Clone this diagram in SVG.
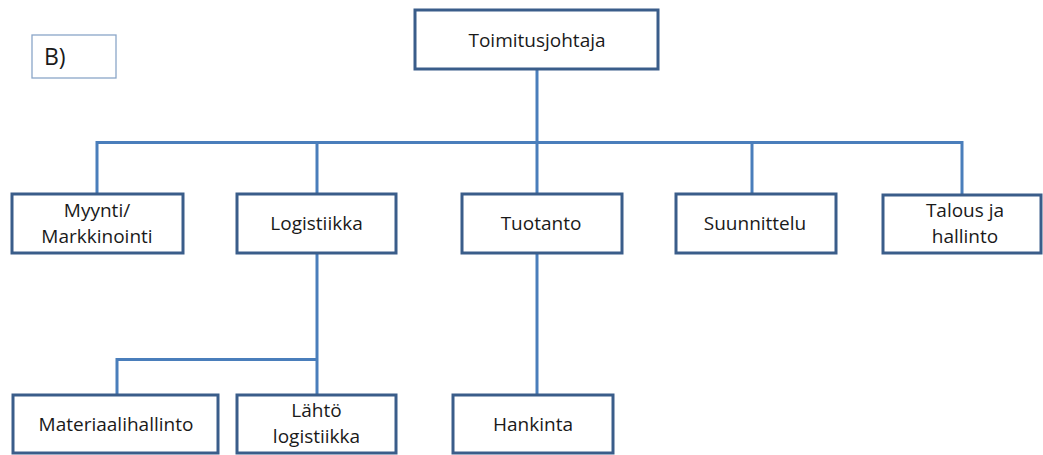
<svg xmlns="http://www.w3.org/2000/svg" width="1043" height="455" viewBox="0 0 1043 455">
  <style>
    .box { fill: #ffffff; stroke: #3a5d8a; stroke-width: 3; }
    .tag { fill: #ffffff; stroke: #8aa6c8; stroke-width: 1.3; }
    .lbl { font-family: "Open Sans", "Liberation Sans", sans-serif; font-size: 19px; fill: #1a1a1a; text-anchor: middle; }
    .tagtxt { font-family: "Open Sans", "Liberation Sans", sans-serif; font-size: 23px; fill: #1a1a1a; }
    .wire { fill: none; stroke: #4a7ebb; stroke-width: 3; }
  </style>
  <rect width="1043" height="455" fill="#ffffff"/>

  <!-- connectors -->
  <g id="connectors">
    <path class="wire" d="M537 69 V142.5"/>
    <path class="wire" d="M97 194 V142.5 H962 V194"/>
    <path class="wire" d="M317 142.5 V194"/>
    <path class="wire" d="M537 142.5 V194"/>
    <path class="wire" d="M752 142.5 V194"/>
    <path class="wire" d="M317 253 V395"/>
    <path class="wire" d="M117 395 V359.5 H317"/>
    <path class="wire" d="M537 253 V395"/>
  </g>

  <!-- caption tag -->
  <g id="tag-b">
    <rect class="tag" x="32" y="35" width="84" height="43"/>
    <text class="tagtxt" x="44" y="65">B)</text>
  </g>

  <g id="toimitusjohtaja">
    <rect class="box" x="415" y="10" width="243" height="59"/>
    <text class="lbl" x="537" y="47">Toimitusjohtaja</text>
  </g>

  <g id="myynti">
    <rect class="box" x="12" y="194" width="171" height="59"/>
    <text class="lbl" x="97" y="217">Myynti/</text>
    <text class="lbl" x="97" y="243">Markkinointi</text>
  </g>

  <g id="logistiikka">
    <rect class="box" x="237" y="194" width="159" height="59"/>
    <text class="lbl" x="316.5" y="230">Logistiikka</text>
  </g>

  <g id="tuotanto">
    <rect class="box" x="462" y="194" width="160" height="59"/>
    <text class="lbl" x="541" y="230">Tuotanto</text>
  </g>

  <g id="suunnittelu">
    <rect class="box" x="676" y="194" width="160" height="59"/>
    <text class="lbl" x="755" y="230">Suunnittelu</text>
  </g>

  <g id="talous">
    <rect class="box" x="883" y="195" width="158" height="58"/>
    <text class="lbl" x="965" y="217">Talous ja</text>
    <text class="lbl" x="965" y="243">hallinto</text>
  </g>

  <g id="materiaalihallinto">
    <rect class="box" x="13" y="395" width="205" height="58"/>
    <text class="lbl" x="116" y="431">Materiaalihallinto</text>
  </g>

  <g id="lahtologistiikka">
    <rect class="box" x="237" y="395" width="159" height="58"/>
    <text class="lbl" x="316.5" y="417">Lähtö</text>
    <text class="lbl" x="316.5" y="443">logistiikka</text>
  </g>

  <g id="hankinta">
    <rect class="box" x="453" y="395" width="160" height="58"/>
    <text class="lbl" x="533" y="431">Hankinta</text>
  </g>
</svg>
